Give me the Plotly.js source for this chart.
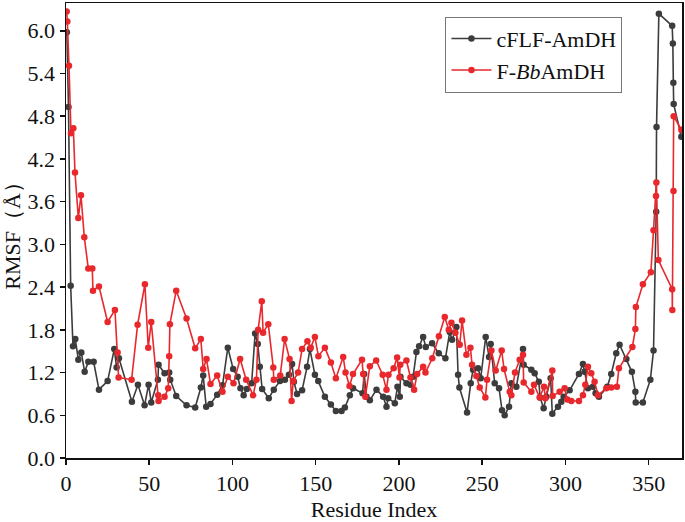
<!DOCTYPE html>
<html>
<head>
<meta charset="utf-8">
<script src="https://cdn.plot.ly/plotly-3.0.1.min.js"></script>
<style>html,body{margin:0;padding:0;background:#fff;}#chart{width:685px;height:522px;}</style>
</head>
<body>
<div id="chart"></div>
<script>
// cFLF-AmDH series
const cflfX = [0.5,1.5,2.8,4.2,5.6,7.4,9.2,11.2,13.4,16.6,19.8,25.0,29.0,30.4,31.8,39.6,43.2,47.2,49.6,51.2,55.2,55.6,59.2,62.0,62.6,66.2,72.4,77.6,81.0,82.4,84.2,86.8,90.8,94.0,97.2,100.4,103.1,104.8,106.7,108.6,111.5,113.6,115.2,116.4,117.8,121.8,124.8,128.5,131.5,133.9,135.8,136.9,138.8,141.8,144.8,146.5,149.5,151.5,155.5,159.1,162.1,165.5,167.5,170.5,172.4,178.1,179.1,180.5,182.5,186.5,190.5,192.5,193.5,197.5,199.1,200.5,200.9,204.5,206.9,208.5,210.5,212.1,214.5,216.1,219.9,223.9,227.9,230.5,231.9,234.5,235.5,236.3,240.9,243.1,244.5,247.5,249.1,252.1,254.1,255.1,257.5,260.1,261.9,263.5,266.1,267.5,270.5,274.5,274.9,279.5,281.5,284.0,284.8,286.9,288.5,291.1,292.1,295.5,297.5,298.9,302.5,308.1,310.5,311.5,313.5,316.5,318.1,320.1,325.1,327.5,330.5,332.5,336.6,339.9,342.0,342.2,346.5,351.0,352.9,354.5,354.7,356.1,364.1,364.5,364.8,365.0,369.6];
const cflfY = [5.98,4.93,2.42,1.57,1.67,1.38,1.48,1.21,1.35,1.35,0.96,1.08,1.53,1.27,1.40,0.79,1.03,0.74,1.03,0.78,1.10,1.31,1.19,1.20,1.10,0.87,0.74,0.71,0.99,1.16,0.72,0.76,0.89,1.02,1.55,1.25,1.14,0.98,0.88,0.97,1.05,1.75,1.60,1.28,0.97,0.84,0.96,1.08,1.10,1.17,1.32,1.07,0.90,0.95,1.28,1.53,1.17,1.08,0.86,0.75,0.66,0.66,0.71,0.88,0.98,0.91,1.18,0.86,0.81,0.96,0.86,0.72,0.84,0.77,1.00,0.86,1.14,1.05,1.03,1.14,1.49,1.57,1.70,1.56,1.61,1.47,1.40,1.77,1.66,1.84,1.17,0.99,0.64,1.05,1.24,1.26,1.12,1.70,1.42,1.60,1.05,0.98,0.67,0.60,0.72,1.05,1.00,1.53,1.31,1.24,1.19,1.07,0.85,0.70,0.86,1.12,0.62,0.72,0.79,0.86,0.95,1.18,1.32,1.21,0.98,1.00,0.91,0.86,1.00,1.18,1.47,1.59,1.39,1.21,0.93,0.78,0.78,1.10,1.51,3.46,4.65,6.24,6.07,5.82,5.27,4.97,4.51];

// F-BbAmDH series
const fbbX = [0.4,0.8,1.8,3.0,4.4,5.4,7.4,9.0,11.0,13.4,15.8,16.2,19.8,25.0,29.4,31.0,31.6,39.4,43.0,47.4,49.4,51.2,55.4,55.6,59.2,61.4,62.0,62.4,66.2,72.4,77.6,81.0,82.4,84.4,86.8,90.8,94.0,97.2,100.6,104.6,108.2,112.4,114.4,115.4,117.6,118.4,121.5,124.5,124.8,128.7,131.3,134.3,135.5,136.5,139.4,141.8,145.0,147.0,149.5,151.6,155.5,159.1,162.1,166.5,167.9,170.3,172.4,177.8,178.5,179.8,182.5,186.3,190.2,192.5,193.7,196.8,198.9,200.3,200.8,204.5,206.9,209.1,210.9,214.5,215.9,220.0,224.0,227.5,229.9,231.5,233.9,236.5,237.9,240.5,242.9,243.9,246.5,248.5,251.9,252.9,255.5,258.1,261.7,263.1,266.5,267.5,269.7,272.5,274.5,274.9,279.5,281.1,284.5,287.1,287.9,292.1,292.3,296.5,299.5,301.1,303.5,308.1,310.5,311.9,313.5,315.5,317.5,319.5,324.5,327.5,330.9,332.1,340.2,342.0,342.3,346.5,351.3,352.9,354.4,354.6,355.8,364.1,364.2,364.9,365.0,369.6];
const fbbY = [6.27,6.13,5.51,4.56,4.63,4.01,3.37,3.69,3.10,2.66,2.66,2.35,2.41,1.91,2.08,1.48,1.13,1.10,1.87,2.44,1.55,1.91,0.88,0.80,0.86,0.98,1.43,1.88,2.35,1.96,1.54,1.67,1.25,1.39,1.04,1.16,0.93,1.14,1.05,1.39,1.10,0.88,1.10,1.80,2.20,1.76,1.88,1.27,1.10,1.16,1.67,1.39,0.80,1.08,1.20,1.53,1.64,1.55,1.70,1.43,1.55,1.34,1.12,1.42,1.20,1.01,1.18,1.38,1.18,0.86,1.29,1.37,1.17,0.96,1.17,1.26,1.41,1.13,1.31,1.37,1.13,0.96,1.18,1.28,1.20,1.40,1.71,1.98,1.80,1.90,1.76,1.59,1.93,1.45,1.55,1.31,1.15,0.99,0.85,1.10,1.51,1.23,1.51,1.25,0.93,0.88,1.20,1.38,1.45,1.06,0.93,1.03,0.85,1.00,0.84,1.23,0.87,0.93,0.98,0.82,0.80,0.80,0.88,1.03,1.28,1.19,1.07,0.88,0.98,0.99,1.00,1.26,1.56,1.81,2.12,2.44,2.61,3.20,3.68,3.87,2.78,2.37,2.08,3.75,4.80,4.61];

const seriesNames = ['cFLF-AmDH', 'F-<i>Bb</i>AmDH'];
const yTicks = [0.0,0.6,1.2,1.8,2.4,3.0,3.6,4.2,4.8,5.4,6.0];
const xTicks = [0,50,100,150,200,250,300,350];

const font = 'Liberation Serif, Times New Roman, serif';

const traces = [
  {x: cflfX, y: cflfY, name: seriesNames[0], type: 'scatter', mode: 'lines+markers',
   line: {color: '#3c3c3c', width: 1.6}, marker: {color: '#3c3c3c', size: 6.5}, cliponaxis: true},
  {x: fbbX, y: fbbY, name: seriesNames[1], type: 'scatter', mode: 'lines+markers',
   line: {color: '#e8282c', width: 1.6}, marker: {color: '#e8282c', size: 6.5}, cliponaxis: true}
];

const layout = {
  width: 685, height: 522,
  margin: {l: 66, r: 3, t: 3, b: 64},
  paper_bgcolor: '#fff', plot_bgcolor: '#fff',
  font: {family: font, size: 22, color: '#111'},
  showlegend: true,
  legend: {x: 0.616, y: 0.97, xanchor: 'left', yanchor: 'top',
           bgcolor: 'rgba(255,255,255,1)', bordercolor: '#777', borderwidth: 1,
           font: {family: font, size: 22, color: '#111'}, tracegroupgap: 0, itemwidth: 40},
  xaxis: {range: [0, 370], tickvals: xTicks, ticks: 'outside', ticklen: 5, tickwidth: 1.5,
          tickcolor: '#111', showline: true, linecolor: '#111', linewidth: 1.5, mirror: true,
          showgrid: false, zeroline: false, tickfont: {family: font, size: 22},
          title: {text: 'Residue Index', font: {family: font, size: 22}, standoff: 10}},
  yaxis: {range: [0, 6.39], tickvals: yTicks, tickformat: '.1f', ticks: 'outside', ticklen: 5,
          tickwidth: 1.5, tickcolor: '#111', showline: true, linecolor: '#111', linewidth: 1.5,
          mirror: true, showgrid: false, zeroline: false, tickfont: {family: font, size: 22},
          title: {text: 'RMSF（Å）', font: {family: font, size: 22}, standoff: 4}}
};

Plotly.newPlot('chart', traces, layout, {displayModeBar: false, staticPlot: true});
</script>
</body>
</html>
